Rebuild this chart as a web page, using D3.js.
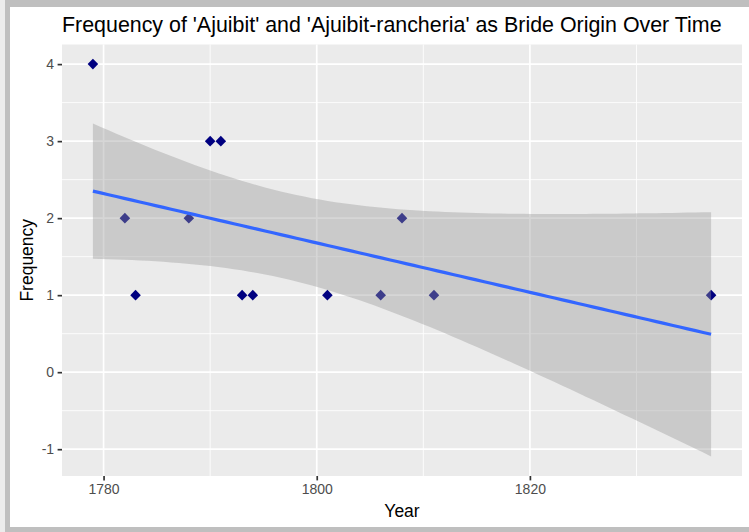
<!DOCTYPE html>
<html>
<head>
<meta charset="utf-8">
<script src="https://cdn.jsdelivr.net/npm/d3@7"></script>
<style>
  html, body { margin: 0; padding: 0; background: #ffffff; }
  svg { display: block; }
  text { font-family: "Liberation Sans", Arial, Helvetica, sans-serif; }
</style>
</head>
<body>
<svg id="chart" width="749" height="532"></svg>
<script>
// ---- Data ----
const years = [1779, 1782, 1783, 1788, 1790, 1791, 1793, 1794, 1801, 1806, 1808, 1811, 1837];
const freq  = [4, 2, 1, 2, 3, 3, 1, 1, 1, 1, 2, 1, 1];
const xTickValues = [1780, 1800, 1820];
const xMinorValues = [1790, 1810, 1830];
const yTickValues = [-1, 0, 1, 2, 3, 4];
const yMinorValues = [-0.5, 0.5, 1.5, 2.5, 3.5];
const titleText = "Frequency of 'Ajuibit' and 'Ajuibit-rancheria' as Bride Origin Over Time";
const xTitle = "Year";
const yTitle = "Frequency";
// t quantile (0.975, df = n - 2 = 11) used by the 95% confidence band of geom_smooth(method = "lm")
const tQuant = 2.200985;

// ---- Linear model (as geom_smooth does) ----
const n = years.length;
const mx = d3.mean(years), my = d3.mean(freq);
let sxx = 0, sxy = 0;
for (let i = 0; i < n; i++) { sxx += (years[i] - mx) ** 2; sxy += (years[i] - mx) * (freq[i] - my); }
const slope = sxy / sxx, intercept = my - slope * mx;
let sse = 0;
for (let i = 0; i < n; i++) sse += (freq[i] - (intercept + slope * years[i])) ** 2;
const sigma = Math.sqrt(sse / (n - 2));
const xmin = d3.min(years), xmax = d3.max(years);
const fit = d3.range(80).map(k => {
  const x = xmin + (xmax - xmin) * k / 79;
  const yhat = intercept + slope * x;
  const se = sigma * Math.sqrt(1 / n + (x - mx) ** 2 / sxx);
  return { x, y: yhat, lo: yhat - tQuant * se, hi: yhat + tQuant * se };
});

// ---- Layout ----
const svg = d3.select("#chart");
const W = 749, H = 532;
const panel = { left: 62, right: 742, top: 44.5, bottom: 476 };

// window frame
svg.append("rect").attr("x", 0).attr("y", 0).attr("width", W).attr("height", H).attr("fill", "#bfbfbf");
svg.append("rect").attr("x", 0).attr("y", 0).attr("width", 5).attr("height", H).attr("fill", "#ececec");
svg.append("rect").attr("x", 10).attr("y", 7).attr("width", W - 10).attr("height", 520).attr("fill", "#ffffff");

const xExt = [xmin, xmax];
const yAll = freq.concat(fit.map(d => d.lo), fit.map(d => d.hi));
const yExt = d3.extent(yAll);
const xPad = (xExt[1] - xExt[0]) * 0.05, yPad = (yExt[1] - yExt[0]) * 0.05;
const x = d3.scaleLinear().domain([xExt[0] - xPad, xExt[1] + xPad]).range([panel.left, panel.right]);
const y = d3.scaleLinear().domain([yExt[0] - yPad, yExt[1] + yPad]).range([panel.bottom, panel.top]);

// panel background
svg.append("rect").attr("x", panel.left).attr("y", panel.top)
  .attr("width", panel.right - panel.left).attr("height", panel.bottom - panel.top)
  .attr("fill", "#ebebeb");

const grid = svg.append("g");
grid.selectAll("line.ymin").data(yMinorValues).join("line")
  .attr("x1", panel.left).attr("x2", panel.right).attr("y1", d => y(d)).attr("y2", d => y(d))
  .attr("stroke", "#ffffff").attr("stroke-width", 0.85);
grid.selectAll("line.xmin").data(xMinorValues.filter(v => x(v) > panel.left && x(v) < panel.right)).join("line")
  .attr("y1", panel.top).attr("y2", panel.bottom).attr("x1", d => x(d)).attr("x2", d => x(d))
  .attr("stroke", "#ffffff").attr("stroke-width", 0.85);
grid.selectAll("line.ymaj").data(yTickValues).join("line")
  .attr("x1", panel.left).attr("x2", panel.right).attr("y1", d => y(d)).attr("y2", d => y(d))
  .attr("stroke", "#ffffff").attr("stroke-width", 1.7);
grid.selectAll("line.xmaj").data(xTickValues).join("line")
  .attr("y1", panel.top).attr("y2", panel.bottom).attr("x1", d => x(d)).attr("x2", d => x(d))
  .attr("stroke", "#ffffff").attr("stroke-width", 1.7);

// points (drawn before the smooth, as in the reference)
const r = 5.3;
const diamond = `M0,${-r}L${r},0L0,${r}L${-r},0Z`;
svg.append("g").selectAll("path").data(years.map((yr, i) => ({ yr, f: freq[i] }))).join("path")
  .attr("d", diamond)
  .attr("transform", d => `translate(${x(d.yr)},${y(d.f)})`)
  .attr("fill", "#000080");

// confidence ribbon
svg.append("path").datum(fit)
  .attr("d", d3.area().x(d => x(d.x)).y0(d => y(d.lo)).y1(d => y(d.hi)))
  .attr("fill", "#999999").attr("fill-opacity", 0.4);

// fitted line
svg.append("path").datum(fit)
  .attr("d", d3.line().x(d => x(d.x)).y(d => y(d.y)))
  .attr("fill", "none").attr("stroke", "#3366FF").attr("stroke-width", 3.2);

// axes
const plainFmt = d => String(d);
const xAxis = d3.axisBottom(x).tickValues(xTickValues).tickSize(4.4).tickPadding(3.5).tickFormat(plainFmt);
const gx = svg.append("g").attr("transform", `translate(0,${panel.bottom})`).call(xAxis);
gx.select(".domain").remove();
gx.selectAll(".tick line").attr("stroke", "#333333").attr("stroke-width", 1.7);
gx.selectAll(".tick text").attr("fill", "#4d4d4d").style("font-size", "14px")
  .style("font-family", "'Liberation Sans', Arial, sans-serif");

const yAxis = d3.axisLeft(y).tickValues(yTickValues).tickSize(4.4).tickPadding(3.5).tickFormat(plainFmt);
const gy = svg.append("g").attr("transform", `translate(${panel.left},0)`).call(yAxis);
gy.select(".domain").remove();
gy.selectAll(".tick line").attr("stroke", "#333333").attr("stroke-width", 1.7);
gy.selectAll(".tick text").attr("fill", "#4d4d4d").style("font-size", "14px")
  .style("font-family", "'Liberation Sans', Arial, sans-serif");

// titles
svg.append("text").attr("x", panel.left).attr("y", 32)
  .attr("fill", "#000").style("font-size", "21.4px").text(titleText);
svg.append("text").attr("x", (panel.left + panel.right) / 2).attr("y", 517)
  .attr("text-anchor", "middle").attr("fill", "#000").style("font-size", "17.5px").text(xTitle);
svg.append("text").attr("transform", `translate(33,${(panel.top + panel.bottom) / 2}) rotate(-90)`)
  .attr("text-anchor", "middle").attr("fill", "#000").style("font-size", "17.5px").text(yTitle);
</script>
</body>
</html>
